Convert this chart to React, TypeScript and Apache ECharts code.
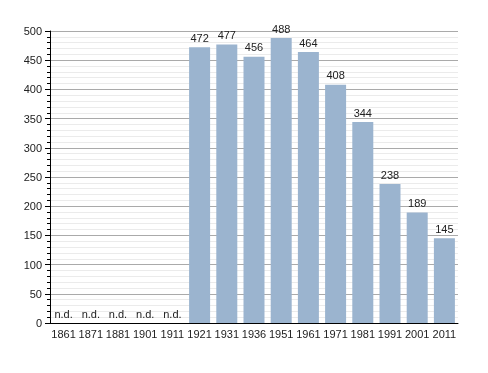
import React, { useEffect, useRef } from "react";
import * as echarts from "echarts";

const categories = ["1861", "1871", "1881", "1901", "1911", "1921", "1931", "1936", "1951", "1961", "1971", "1981", "1991", "2001", "2011"];
const population: (number | null)[] = [null, null, null, null, null, 472, 477, 456, 488, 464, 408, 344, 238, 189, 145];
const yTicks = { min: 0, max: 500, interval: 50 };

export default function App() {
  const ref = useRef<HTMLDivElement>(null);
  useEffect(() => {
    if (!ref.current) return;
    const chart = echarts.init(ref.current, undefined, { renderer: "svg" });
    const font = "Liberation Sans, Arial, sans-serif";
    chart.setOption({
      animation: false,
      grid: { left: 50, right: 30, top: 31, bottom: 50, containLabel: false },
      xAxis: {
        type: "category",
        data: categories,
        boundaryGap: true,
        axisLine: { lineStyle: { color: "#000", width: 1 } },
        axisTick: { show: false },
        axisLabel: { color: "#222", fontSize: 11, fontFamily: font, margin: 5, interval: 0 },
      },
      yAxis: {
        type: "value",
        min: yTicks.min,
        max: yTicks.max,
        interval: yTicks.interval,
        axisLine: { show: true, lineStyle: { color: "#000", width: 1 } },
        axisTick: { show: true, length: 5, lineStyle: { color: "#000" } },
        minorTick: { show: true, splitNumber: 5, length: 3, lineStyle: { color: "#000" } },
        axisLabel: { color: "#222", fontSize: 11, fontFamily: font, margin: 8 },
        splitLine: { show: true, lineStyle: { color: "#aaaaaa", width: 1 } },
        minorSplitLine: { show: true, lineStyle: { color: "#ebebeb", width: 1 } },
      },
      series: [
        {
          type: "bar",
          barWidth: 21,
          itemStyle: { color: "#9bb4cf" },
          label: { show: true, position: "top", distance: 4, color: "#222", fontSize: 11, fontFamily: font },
          data: population.map((v) =>
            v === null
              ? { value: 0, label: { formatter: "n.d." } }
              : { value: v }
          ),
        },
      ],
    });
    return () => chart.dispose();
  }, []);
  return <div ref={ref} style={{ position: "fixed", left: 0, top: 0, width: 488, height: 373 }} />;
}
